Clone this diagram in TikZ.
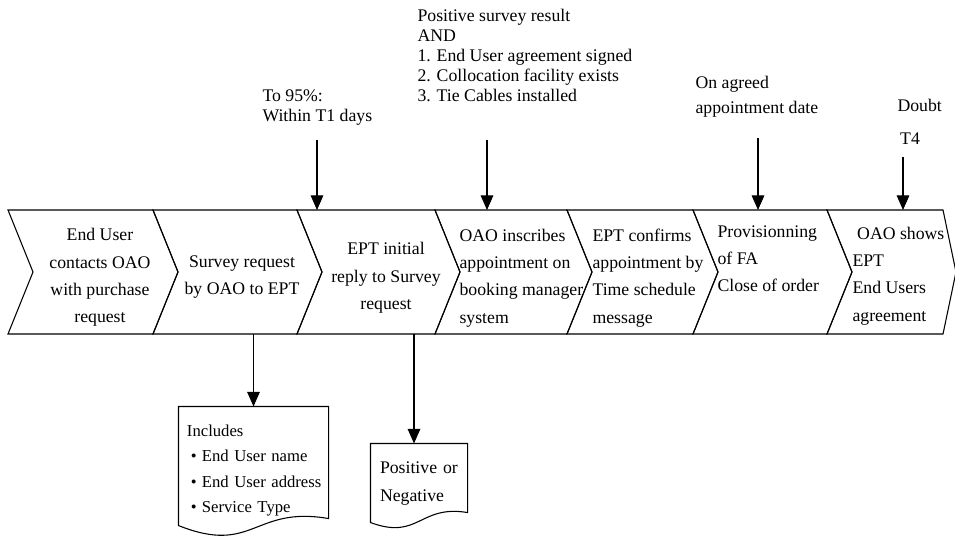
\documentclass[tikz,border=0pt]{standalone}
\usepackage{fontspec}
\setmainfont{Liberation Serif}
\usetikzlibrary{arrows.meta,positioning,calc}

\newcommand\chevron[2][25]{%
  \draw (#2.north west) -- (#2.north east) -- ($(#2.east)+(#1,0)$) -- (#2.south east)
    -- (#2.south west) -- ($(#2.west)+(25,0)$) -- cycle;}

\begin{document}
\begin{tikzpicture}[x=0.75pt,y=-0.75pt,line width=0.8pt,
  flow/.style={-{Triangle[length=11pt,width=9.5pt]}},
  chev/.style={minimum height=93pt,inner sep=0pt,outer sep=0pt},
  chevtext/.style={align=center,inner sep=0pt,font=\fontsize{13.3}{20.5}\selectfont},
  note/.style={anchor=west,align=left,inner sep=0pt,font=\fontsize{13.3}{15}\selectfont},
  doc/.style={align=left,inner ysep=0pt,font=\fontsize{12.5}{19}\selectfont}]
  \useasboundingbox (0,0) rectangle (955,548);

  % process chain
  \node[chev,minimum width=108.75pt] (c1) at (80.5,272) {};
  \node[chev,minimum width=108pt,right=0pt of c1] (c2) {};
  \node[chev,minimum width=103.5pt,right=0pt of c2] (c3) {};
  \node[chev,minimum width=99pt,right=0pt of c3] (c4) {};
  \node[chev,minimum width=94.5pt,right=0pt of c4] (c5) {};
  \node[chev,minimum width=100.5pt,right=0pt of c5] (c6) {};
  \node[chev,minimum width=87pt,right=0pt of c6] (c7) {};
  \chevron{c1}
  \chevron{c2}
  \chevron{c3}
  \chevron{c4}
  \chevron{c5}
  \chevron{c6}
  \chevron[13]{c7}

  \node[chevtext] (t1) at ([xshift=14.6pt,yshift=-4.25pt]c1.center) {End User\\contacts OAO\\with purchase\\request};
  \node[chevtext] (t2) at ([xshift=12.75pt,yshift=-4pt]c2.center) {Survey request\\by OAO to EPT};
  \node[chevtext] (t3) at ([xshift=15pt,yshift=-4.5pt]c3.center) {EPT initial\\reply to Survey\\request};
  \node[chevtext,anchor=west,align=left] (t4) at ([xshift=18pt,yshift=-4.5pt]c4.west) {OAO inscribes\\appointment on\\booking manager\\system};
  \node[chevtext,anchor=west,align=left] (t5) at ([xshift=18.75pt,yshift=-4.5pt]c5.west) {EPT confirms\\appointment by\\Time schedule\\message};
  \node[chevtext,anchor=west,align=left] (t6) at ([xshift=18pt,yshift=10pt]c6.west) {Provisionning\\of FA\\Close of order};
  \node[chevtext,anchor=west,align=left] (t7) at ([xshift=18.75pt,yshift=-3pt]c7.west) {\hspace*{3.5pt}OAO shows\\EPT\\End Users\\agreement};

  % conditions above
  \node[note] (n1) at (262,108) {To 95\%:\\Within T1 days};
  \node[note] (n2) at (417,55) {Positive survey result\\AND\\1. End User agreement signed\\2. Collocation facility exists\\3. Tie Cables installed};
  \node[note,font=\fontsize{13.3}{18.75}\selectfont] (n3) at (695,96.5) {On agreed\\appointment date};
  \node[note,font=\fontsize{13.3}{24.75}\selectfont] (n4) at (897,121.5) {Doubt\\\hspace*{2pt}T4};

  \coordinate (a1) at (317,140);
  \coordinate (a2) at (487,140);
  \coordinate (a3) at (758,138);
  \coordinate (a4) at (903,157);
  \draw[flow] (a1) -- (a1 |- c3.north);
  \draw[flow] (a2) -- (a2 |- c4.north);
  \draw[flow] (a3) -- (a3 |- c6.north);
  \draw[flow] (a4) -- (a4 |- c7.north);

  % documents below
  \node[doc,minimum width=111.75pt,minimum height=95.25pt,text width=108pt,inner xsep=1.875pt] (d1) at (253.5,470.5)
    {\hspace*{4.1pt}Includes\\\hspace*{7.1pt}\textbullet\hspace{3.85pt}End User name\\\hspace*{7.1pt}\textbullet\hspace{3.85pt}End User address\\\hspace*{7.1pt}\textbullet\hspace{3.85pt}Service Type};
  \node[doc,font=\fontsize{13.3}{20.5}\selectfont,minimum width=72pt,minimum height=59.25pt,text width=58.5pt,inner xsep=6.75pt] (d2) at (419,483.5)
    {Positive or\\Negative};
  \draw (d1.north west) -- (d1.north east) -- ($(d1.south east)+(0,-16)$)
    .. controls ($(d1.south)+(0,-29)$) and ($(d1.south)+(0,21)$) .. ($(d1.south west)+(0,-9)$) -- cycle;
  \draw (d2.north west) -- (d2.north east) -- ($(d2.south east)+(0,-11)$)
    .. controls ($(d2.south)+(0,-19)$) and ($(d2.south)+(0,17)$) .. ($(d2.south west)+(0,-1)$) -- cycle;

  \coordinate (d2in) at ($(d2.north)+(-5,0)$);
  \draw[flow] (d1.north |- c2.south) -- (d1.north);
  \draw[flow] (d2in |- c3.south) -- (d2in);
\end{tikzpicture}
\end{document}
